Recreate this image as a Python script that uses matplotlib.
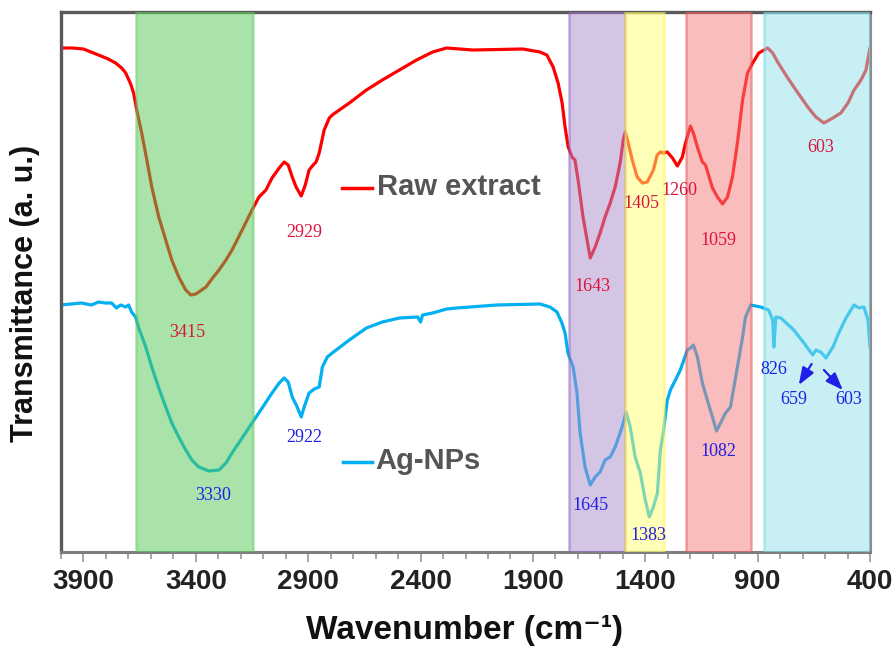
import numpy as np
import matplotlib
matplotlib.use("Agg")
import matplotlib.pyplot as plt
from matplotlib.ticker import MultipleLocator

plt.rcParams["font.family"] = ["Liberation Sans", "DejaVu Sans"]

# ==============================
# Data (wavenumber in cm-1, transmittance in a.u.)
# ==============================
raw_wn = [4000, 3950, 3900, 3833, 3790, 3757, 3730, 3712, 3690, 3677,
          3663, 3641, 3618, 3596, 3565, 3534, 3507, 3476, 3445, 3422,
          3400, 3355, 3329, 3297, 3266, 3239, 3194, 3150, 3119, 3088,
          3061, 3029, 3007, 2989, 2971, 2954, 2931, 2913, 2896, 2878,
          2865, 2851, 2829, 2806, 2793, 2717, 2641, 2570, 2494, 2418,
          2346, 2284, 2168, 1945, 1869, 1838, 1810, 1788, 1770, 1757,
          1743, 1726, 1713, 1699, 1677, 1659, 1645, 1623, 1601, 1579,
          1556, 1534, 1512, 1498, 1489, 1476, 1458, 1436, 1413, 1391,
          1364, 1347, 1333, 1320, 1302, 1279, 1257, 1235, 1221, 1199,
          1186, 1168, 1146, 1132, 1101, 1079, 1056, 1034, 1012, 990,
          967, 945, 922, 895, 855, 833, 811, 766, 739, 677,
          641, 605, 565, 530, 498, 471, 440, 418, 400]
raw_t = [504, 504, 503, 497, 493, 489, 484, 479, 468, 459,
         442, 419, 392, 365, 335, 312, 292, 275, 262, 257,
         258, 265, 273, 282, 292, 302, 322, 342, 355, 362,
         374, 384, 390, 387, 375, 365, 356, 367, 382, 387,
         390, 399, 422, 434, 437, 449, 462, 472, 482, 492,
         500, 504, 502, 503, 500, 497, 485, 469, 449, 425,
         405, 395, 392, 372, 335, 312, 294, 305, 319, 335,
         349, 365, 389, 412, 420, 409, 392, 375, 369, 370,
         382, 397, 400, 399, 400, 394, 386, 395, 409, 426,
         419, 405, 390, 387, 364, 355, 348, 355, 375, 409,
         452, 479, 489, 499, 504, 499, 490, 474, 465, 445,
         435, 429, 434, 439, 449, 462, 472, 482, 504]

ag_wn = [4000, 3954, 3909, 3864, 3833, 3802, 3775, 3753, 3735, 3712,
         3699, 3686, 3668, 3654, 3623, 3596, 3565, 3534, 3507, 3476,
         3445, 3418, 3387, 3342, 3297, 3266, 3239, 3194, 3150, 3105,
         3061, 3029, 3007, 2989, 2971, 2949, 2931, 2918, 2896, 2873,
         2851, 2837, 2815, 2793, 2717, 2641, 2570, 2494, 2413, 2400,
         2391, 2346, 2284, 2239, 2061, 1869, 1824, 1793, 1771, 1757,
         1744, 1721, 1704, 1690, 1668, 1645, 1623, 1601, 1579, 1556,
         1534, 1512, 1498, 1485, 1467, 1445, 1422, 1400, 1382, 1364,
         1346, 1333, 1320, 1302, 1288, 1266, 1244, 1213, 1199, 1186,
         1168, 1146, 1124, 1101, 1083, 1065, 1043, 1021, 990, 967,
         954, 931, 887, 851, 833, 828, 819, 797, 739, 694,
         655, 641, 619, 596, 565, 539, 507, 471, 449, 427,
         409, 400]
ag_t = [247, 248, 249, 247, 250, 249, 249, 244, 247, 245,
        247, 240, 235, 224, 205, 185, 164, 145, 129, 115,
        102, 92, 85, 81, 82, 89, 99, 114, 129, 144,
        159, 169, 174, 170, 155, 145, 135, 145, 159, 163,
        165, 185, 195, 199, 212, 224, 230, 234, 235, 230,
        237, 239, 243, 244, 247, 248, 245, 240, 229, 219,
        199, 185, 159, 119, 85, 67, 75, 80, 92, 95,
        105, 119, 129, 140, 125, 95, 79, 52, 35, 45,
        59, 102, 119, 152, 162, 172, 182, 202, 204, 207,
        195, 169, 152, 135, 121, 129, 139, 145, 185, 215,
        235, 247, 245, 242, 232, 205, 235, 234, 222, 209,
        197, 202, 200, 194, 205, 219, 234, 247, 244, 245,
        232, 205]

# highlighted regions (high, low wavenumber)
band_edges = [(3665, 3145), (1740, 1490), (1490, 1315), (1217, 930), (873, 402)]
band_faces = ["#55c955", "#ad8dcd", "#ffff73", "#f57d7d", "#91e1eb"]
band_lines = ["#60c860", "#8a5cc0", "#fff050", "#e85050", "#6ed6e6"]

# peak labels: text, wavenumber, transmittance
raw_labels = [("3415", 3440, 219), ("2929", 2918, 319), ("1643", 1637, 265),
              ("1405", 1418, 348), ("1260", 1248, 361), ("1059", 1074, 311),
              ("603", 619, 404)]
ag_labels = [("3330", 3324, 57), ("2922", 2918, 114), ("1645", 1645, 47),
             ("1383", 1387, 17), ("1082", 1074, 100), ("826", 829, 182),
             ("659", 739, 153), ("603", 494, 153)]

# ==============================
# Plot
# ==============================
fig = plt.figure(figsize=(8.96, 6.54), dpi=100)
ax = fig.add_axes([61 / 896, 102 / 654, 809 / 896, 540 / 654])

ax.plot(raw_wn, raw_t, color="#ff0000", lw=2.3, zorder=2, solid_joinstyle="round")
ax.plot(ag_wn, ag_t, color="#00b0f0", lw=2.3, zorder=2, solid_joinstyle="round")

for (hi, lo), fc, ec in zip(band_edges, band_faces, band_lines):
    ax.axvspan(lo, hi, facecolor=fc, edgecolor=ec, alpha=0.5, lw=1.8, zorder=3)

for txt, x, y in raw_labels:
    ax.text(x, y, txt, color="#dc143c", fontsize=13, family="Liberation Serif",
            ha="center", va="center", zorder=5)
for txt, x, y in ag_labels:
    ax.text(x, y, txt, color="#1f1fe6", fontsize=13, family="Liberation Serif",
            ha="center", va="center", zorder=5)

# arrows for the two small Ag-NPs dips
arrow_style = dict(arrowstyle="-|>,head_length=0.8,head_width=0.3",
                   color="#1f1fe6", lw=1.6, shrinkA=0, shrinkB=0, mutation_scale=13)
ax.annotate("", xy=(717, 167), xytext=(660, 188), arrowprops=arrow_style, zorder=5)
ax.annotate("", xy=(521, 162), xytext=(605, 182), arrowprops=arrow_style, zorder=5)

# legend-style captions
ax.plot([0.347, 0.384], [0.674, 0.674], color="#ff0000", lw=2.5, transform=ax.transAxes)
ax.text(0.390, 0.676, "Raw extract", transform=ax.transAxes, fontsize=21,
        fontweight="bold", color="#555555", ha="left", va="center")
ax.plot([0.348, 0.384], [0.167, 0.167], color="#00b0f0", lw=2.5, transform=ax.transAxes)
ax.text(0.389, 0.169, "Ag-NPs", transform=ax.transAxes, fontsize=21,
        fontweight="bold", color="#555555", ha="left", va="center")

ax.set_xlim(4000, 400)
ax.set_ylim(0, 540)
ax.set_xticks(np.arange(3900, 399, -500))
ax.xaxis.set_minor_locator(MultipleLocator(100))
ax.set_yticks([])
ax.tick_params(axis="x", which="major", length=7, width=1.3, color="#a0a0a0",
               labelsize=20, pad=5)
ax.tick_params(axis="x", which="minor", length=5, width=1.3, color="#a0a0a0")
for lab in ax.get_xticklabels():
    lab.set_fontweight("bold")
    lab.set_color("#222222")

ax.spines["left"].set_color("#595959")
ax.spines["left"].set_linewidth(2.4)
ax.spines["top"].set_color("#595959")
ax.spines["top"].set_linewidth(2.4)
ax.spines["bottom"].set_color("#7f7f7f")
ax.spines["bottom"].set_linewidth(2.2)
ax.spines["right"].set_color("#8c8c8c")
ax.spines["right"].set_linewidth(2.2)

fig.text(25 / 896, 1 - 293 / 654, "Transmittance (a. u.)", rotation=90,
         fontsize=22, fontweight="bold", ha="center", va="center", color="#111111")
fig.text(464 / 896, 1 - 631 / 654, "Wavenumber (cm⁻¹)",
         fontsize=24, fontweight="bold", ha="center", va="center", color="#111111")

fig.savefig("out.png", dpi=100)
